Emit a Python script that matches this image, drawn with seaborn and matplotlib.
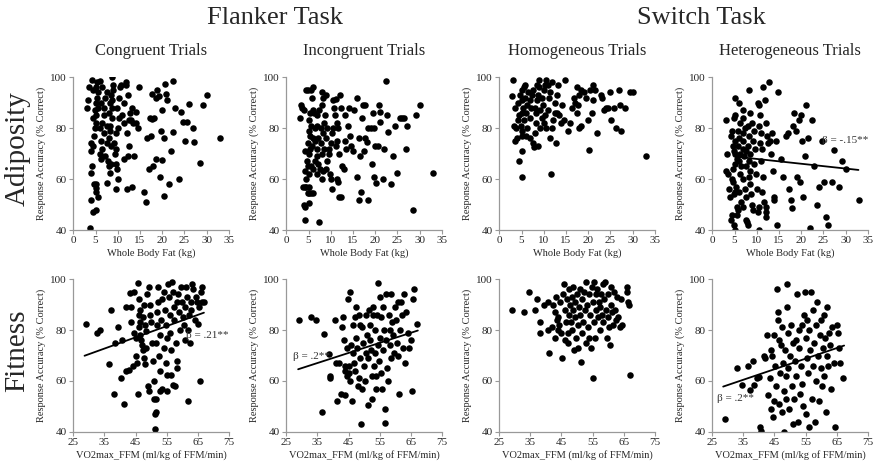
import numpy as np
import pandas as pd
import seaborn as sns
import matplotlib.pyplot as plt

# ---- data ----
# Adiposity row: whole body fat (kg) vs response accuracy (% correct)
cong_fat_x = [3.0, 3.2, 3.5, 3.7, 4.0, 3.9, 4.2, 4.5, 5.0, 4.6, 5.2, 5.0, 5.5, 5.2, 4.0, 4.5, 4.0, 4.6, 4.8, 5.0,
              4.4, 5.2, 4.8, 5.5, 5.0, 5.3, 5.6, 4.5, 5.0, 5.3, 6.0, 4.3,
              6.0, 6.3, 6.5, 6.2, 6.8, 6.0, 6.4, 6.8, 7.0, 6.3, 7.2, 7.5, 6.5, 7.5, 7.2, 7.8, 8.0, 8.2,
              8.5, 7.5, 8.0, 8.5, 8.2, 7.6, 8.3, 8.8, 8.0, 8.6, 8.2, 8.8, 8.5, 9.0, 8.8, 9.0,
              9.3, 9.5, 9.2, 9.6, 9.8, 9.7, 10.1, 9.6, 10.0, 10.3, 9.8, 10.2, 10.5, 10.8, 11.0, 11.3, 11.5, 11.8,
              11.9, 12.0, 11.5, 12.2, 12.0, 12.6, 12.5, 13.0, 12.8, 13.5, 13.2, 12.2, 13.3, 13.6, 14.0, 14.2,
              14.6, 14.8,
              16.0, 16.3, 16.5, 17.0, 17.5, 17.2, 17.8, 18.2, 18.0, 18.5, 17.6, 18.5, 19.3, 18.8, 19.5, 20.0,
              20.3, 19.8, 20.5, 20.0, 21.0, 20.8, 20.7, 21.5, 22.0, 22.5, 22.5, 23.0, 23.8, 24.2, 24.8, 25.5,
              25.2, 26.0, 27.0, 27.2, 28.6, 29.2, 30.2, 33.0]
cong_fat_y = [88, 91, 96, 41, 52, 62.5, 65, 47, 48, 58, 58, 55, 53, 56.5, 71, 73, 74, 77, 80, 82,
              84, 85, 87, 88, 90, 92, 94, 95, 96, 98, 98.5, 99,
              70, 68, 72, 75, 78, 80, 82, 85, 88, 90, 92, 94, 96, 58.5, 69, 67, 65, 62.5,
              66, 74, 76, 73, 79, 81, 81, 84, 86, 88, 90, 91, 93, 95, 100, 97,
              70, 72, 74, 66, 64, 56, 60, 78, 80, 84, 88, 92, 96, 97, 85, 82, 90, 98,
              97, 56, 68, 69, 78, 73, 83, 83, 86, 82, 88, 93, 57, 69, 86.5, 82,
              80, 96,
              55, 51, 76, 64, 77, 84, 83.5, 84, 65, 68, 93.5, 92, 92.5, 95, 61, 67.5,
              53.5, 79, 76, 87, 91, 93.5, 97.5, 58, 71, 78.5, 98.5, 88, 60, 86.5, 82.5, 82.5,
              75, 89.5, 80, 74.5, 66.5, 89, 93, 76]

incong_fat_x = [3.0, 3.3, 3.6, 4.0, 4.4, 4.8, 5.5, 6.0, 5.8, 4.2, 3.8, 4.5, 5.0, 4.0, 4.3, 4.8, 5.2, 5.6, 6.0, 5.0,
                4.3, 4.5, 5.0, 4.2, 4.8, 5.5, 6.0, 4.6, 5.0, 4.2, 5.4, 5.8, 4.8, 5.4, 6.0, 5.0, 5.6, 5.0, 5.4, 5.9,
                6.3, 6.8, 7.3, 6.5, 7.0, 6.5, 7.2, 7.0, 6.8, 6.5, 7.2, 7.5, 7.0, 7.3, 8.0, 8.2, 8.0, 8.5, 7.8, 8.3,
                7.8, 8.5, 8.8, 8.0, 8.3, 8.0, 9.0, 9.2, 9.0, 9.5, 9.2, 9.0, 9.8, 10.0, 10.2, 9.6, 10.0, 10.3, 10.5,
                10.8, 10.5, 11.2,
                11.0, 11.3, 11.6, 11.5, 11.2, 11.8, 11.5, 11.7, 11.8, 12.2, 12.0, 12.2, 12.5, 13.0, 13.2, 13.5, 13.8,
                13.2, 14.0, 14.3, 14.5, 15.0, 15.3, 16.0, 16.0, 16.3, 16.5, 16.3, 16.8,
                17.0, 17.3, 17.8, 17.5, 17.8, 18.2, 18.5, 18.3, 19.0, 19.5, 19.4, 19.8, 19.7, 20.0, 20.3, 20.6,
                21.0, 20.8, 21.0, 21.7, 22.0, 22.5, 22.7, 23.0, 23.6, 24.0, 24.5, 25.0, 25.5, 26.0, 26.5, 27.0,
                27.2, 28.5, 29.3, 30.0, 33.0]
incong_fat_y = [84, 89, 88, 87, 95, 95, 95, 96, 92, 57, 57, 57, 57, 50, 49, 54.5, 54.5, 54.5, 54.5, 50.5,
                44, 60, 62, 63, 65, 65, 64, 67, 70, 71, 72, 73, 74, 77, 76, 79, 81, 83, 86, 87,
                86, 85, 87, 80, 81, 75, 76, 72, 69, 67, 66, 64, 62, 43, 60, 63, 70, 72, 74, 78,
                80, 82, 85, 89, 92, 94, 93, 80, 76, 72, 67, 64, 62, 60, 56, 70, 74, 78, 80,
                88, 91, 91.5,
                85, 82, 80, 75, 73, 70, 60, 59, 53, 53, 93, 88, 65, 64, 75, 72, 81,
                85, 88, 77, 73, 71, 87, 92, 61, 76, 69, 52, 55,
                84, 89, 89, 71, 76, 74.5, 80, 52, 80, 86, 66, 61, 80, 73, 58.5, 73,
                82.5, 89, 86.5, 60, 72, 98.5, 85, 78.5, 58, 69, 81, 62.5, 84, 84, 84, 72,
                81, 48, 85, 89, 62.5]

homog_fat_x = [3.0, 2.8, 3.5, 3.3, 3.8, 3.5, 4.0, 4.2, 4.5, 4.2, 4.6, 4.5, 5.0, 5.2, 5.0, 5.2, 4.8, 5.0, 5.3, 5.0,
               5.2, 5.5, 5.8, 5.7, 5.5, 6.0, 6.2, 6.5, 6.0, 6.3, 6.8, 7.0, 7.2, 7.0, 7.3, 7.5, 7.6, 7.9, 8.0, 8.3,
               8.2, 8.0, 8.5, 8.8, 9.0, 8.5, 9.0, 8.8, 9.2, 9.5, 9.2, 9.8, 9.6, 10.0, 10.3, 10.5, 10.2, 10.0, 10.5,
               11.0, 11.2, 11.5, 11.0, 11.8, 11.5, 11.8, 11.6, 12.2, 12.5, 12.6, 12.8, 13.0, 13.3, 13.0, 13.5, 14.0,
               14.2, 14.8, 14.5, 15.5, 16.0, 16.3, 16.8, 17.0, 17.5, 17.8, 17.5, 18.0, 18.3, 18.0, 18.5, 19.0, 19.5,
               20.0, 20.3, 20.5, 21.0, 21.2, 20.8, 21.5, 22.0, 22.8, 23.2, 23.5, 24.0, 24.5, 25.0, 25.2, 25.8, 26.2,
               27.0, 27.2, 27.3, 28.3, 29.5, 30.0, 33.0]
homog_fat_y = [99, 92.5, 88, 81, 80, 75, 76, 83, 85, 90, 93, 67, 61, 71, 77, 79, 81, 86, 88, 91,
               95, 96, 97, 92, 83, 86, 89, 94, 77, 80, 76, 84, 88, 91, 93, 95, 74, 72.5, 78, 82,
               86, 88, 91, 93, 96, 97, 99, 73, 80, 84, 87, 89, 92, 95, 97, 99, 85, 82, 80,
               87, 92, 94, 97, 98, 76, 80, 62, 83, 86, 90, 74, 93, 97, 86, 85, 82,
               89, 99, 83, 79, 82, 88, 92, 90, 96, 89, 86, 93, 95, 80, 81, 94, 92,
               83, 71.5, 95, 97, 91, 86, 95, 78, 93, 92, 87, 88, 88, 94, 83, 88, 80,
               95, 89, 79, 88, 94, 94, 69]

heterog_fat_x = [3.0, 3.2, 3.0, 3.5, 3.8, 4.0, 4.2, 4.5, 4.8, 5.0, 5.2, 4.8, 4.5, 4.3, 4.6, 4.8, 5.0, 5.2, 5.5, 5.0,
                 4.7, 4.4, 4.6, 5.3, 5.0, 4.8, 5.5, 5.8, 5.2, 5.5, 6.0, 6.2, 5.8, 6.0, 5.8, 6.2, 6.0, 6.4, 6.2, 6.0,
                 6.4,
                 6.8, 7.0, 7.3, 7.0, 6.8, 7.0, 7.5, 7.2, 7.5, 7.0, 7.3, 7.6, 7.0, 7.5, 7.8, 8.0, 8.2, 8.5, 8.0, 8.3,
                 8.0, 8.5, 8.2, 8.6, 8.2, 8.5, 8.8, 9.0, 9.2, 9.0, 9.4, 9.2, 9.6, 9.5, 9.8, 10.0, 10.2, 10.5, 10.5,
                 10.3, 10.6, 10.8, 10.5, 11.0, 10.8, 11.2, 11.0, 11.5, 11.3, 11.6, 12.0, 12.2, 12.0, 11.5, 11.8, 12.0,
                 12.3, 12.5, 12.8, 13.0, 13.3, 13.5, 13.7, 14.0, 14.5, 14.8, 14.3, 14.0,
                 15.5, 16.0, 16.5, 17.0, 17.3, 17.8, 18.0, 18.2, 18.5, 18.8, 19.0, 19.5, 19.8, 20.0, 20.2, 20.5,
                 20.8, 21.0, 21.5, 22.0, 22.5, 23.0, 23.5, 24.0, 24.8, 25.2, 25.7, 26.0, 27.0, 27.3, 28.5, 29.3,
                 30.0, 33.0]
heterog_fat_y = [83, 70, 63, 62, 56, 53, 44, 46, 42, 92, 85, 84, 79, 77, 73, 71, 75, 70, 68, 66,
                 64, 60, 59, 57, 55, 54, 49, 48, 40, 46, 90, 82, 79, 76, 73, 70, 67, 65, 62, 55,
                 51,
                 87, 84, 80, 78, 75, 72, 71, 69, 65, 60, 56, 53, 49, 44, 43, 42, 95, 86, 81, 77,
                 73, 70, 67, 63, 61, 58, 54, 50, 48, 82, 79, 75, 72, 66, 62, 56, 47, 40, 49,
                 90, 89, 85, 81, 78, 74, 72, 67, 61, 55, 51, 49, 47, 45, 96, 91, 82,
                 77, 74, 98, 75, 70, 78, 63, 52, 42, 94, 75, 53,
                 68, 61, 77, 78, 56, 52, 48.5, 81, 86, 79, 61, 83, 59, 85, 75, 53,
                 69, 89, 76, 41, 83, 65, 50, 57, 75, 59, 45, 42, 59, 71.5, 57, 67,
                 64, 52]

# Fitness row: VO2max_FFM vs response accuracy (% correct)
cong_fit_x = [29.0, 32.5, 33.5, 36.5, 37.0, 38.0, 38.5, 39.3, 40.2, 40.8, 41.2, 42.0, 42.0, 43.0, 43.5, 43.2, 43.7,
              44.2, 44.4, 44.5, 45.0, 45.3, 45.5, 45.8, 45.8, 46.0, 46.3, 46.0, 46.5, 46.0, 46.6, 46.8, 47.0, 47.3,
              47.8, 47.5, 47.8, 48.0, 48.2, 48.5, 48.8, 48.5, 49.0, 49.3, 49.5, 49.3, 49.8, 50.0, 50.3, 50.5, 50.8,
              51.0, 51.4, 51.6, 51.3, 51.7, 51.5, 51.8, 52.0, 52.2, 52.3, 52.5, 52.8, 53.0, 53.2, 53.5, 53.0, 53.5,
              54.0, 54.2, 54.5, 54.7, 54.8, 55.0, 55.2, 55.0, 55.5, 55.8, 56.0, 56.2, 56.5, 56.3, 56.7, 57.0, 57.3,
              57.5, 57.0, 57.8, 58.0, 58.2, 58.5, 58.3, 58.7, 59.0, 59.3, 59.5, 60.0, 60.2, 60.5, 60.8, 61.0, 61.3,
              61.5, 61.8, 62.0, 62.2, 62.5, 62.8, 63.0, 63.3, 63.5, 64.0, 64.5, 64.8, 65.0, 65.5, 65.8, 66.0, 66.3,
              66.5, 67.0]
cong_fit_y = [82.5, 79, 80, 66.5, 88, 55, 75, 81, 61, 76, 51, 89, 64, 64.5, 83, 94.5, 89,
              66, 95, 79, 77, 70, 67, 55, 98.5, 92, 88, 86, 83, 81, 78, 76, 74, 72,
              90, 85, 69, 66.5, 82, 79.5, 94, 73, 58, 56, 86, 97, 90, 83, 75, 68, 60,
              53, 47, 48, 41, 53, 75, 82, 87, 91, 97, 70, 64, 78, 84, 92, 56, 57,
              73, 95, 88, 82, 67, 77, 62.5, 56, 98, 93, 86, 79, 72, 62.5, 99, 95, 89,
              84, 58.5, 58, 75, 68, 65, 91, 94, 87, 80, 97, 91, 85, 82, 76, 89, 97,
              93, 52, 80, 86, 75, 91, 88, 98, 96, 84, 93, 91, 82.5, 89, 60, 95, 97,
              91, 91]

incong_fit_x = [29.0, 33.0, 34.5, 36.5, 37.0, 38.8, 39.0, 39.2, 40.5, 41.0, 41.3, 42.0, 42.5, 42.8, 43.3, 43.5,
                43.8, 44.0, 44.0, 44.5, 44.5, 44.8, 45.0, 45.2, 45.5, 45.6, 45.8, 46.0, 46.3, 46.5, 46.8, 47.0,
                47.2, 47.5, 47.5, 47.8, 48.0, 48.3, 48.5, 48.6, 48.8, 49.0, 49.2, 49.5, 49.8, 50.0, 50.2, 50.5,
                50.7, 51.0, 51.2, 51.3, 51.5, 51.8, 52.0, 52.2, 52.5, 52.7, 52.8, 53.0, 53.2, 53.5, 53.6, 53.8,
                54.0, 54.3, 54.5, 54.5, 54.8, 55.0, 55.2, 55.5, 55.6, 55.8, 56.0, 56.2, 56.5, 56.6, 56.8, 57.0,
                57.2, 57.5, 57.8, 58.0, 58.2, 58.4, 58.6, 58.8, 59.0, 59.3, 59.6, 60.0, 60.3, 60.6, 60.8, 61.0,
                61.3, 61.6, 62.0, 62.3, 62.6, 63.0, 63.2, 63.5, 64.0, 64.3, 65.0, 65.5, 65.8, 66.0, 67.0]
incong_fit_y = [84, 85, 84, 48, 78.5, 70.5, 62, 61, 84, 67, 52, 67, 55, 81, 85, 76,
                64, 66, 54.5, 62, 73, 92, 66, 63, 60, 95, 74, 52, 82, 71, 67, 85,
                64, 89, 77, 73, 58, 61, 86, 69, 82, 43, 57, 81, 75, 66, 60, 86,
                71, 78, 69, 50.5, 88, 82, 76, 72, 62, 53, 86, 89, 66, 80, 71, 57,
                62, 86, 98.5, 74, 68, 93, 77, 85, 63, 57, 89, 72, 80, 49, 43.5, 94,
                76, 65, 60, 86, 80, 74, 94, 69, 83, 78, 71, 89, 84, 75, 91, 70,
                55, 80, 91, 86, 73, 94, 67, 87, 79, 73, 76, 56, 92, 96, 82.5]

homog_fit_x = [29.0, 33.0, 34.5, 36.5, 37.0, 38.0, 38.0, 39.5, 40.5, 40.8, 41.0, 41.8, 42.3, 42.8, 43.0, 43.2,
               43.5, 44.0, 44.0, 44.3, 44.6, 45.0, 45.3, 45.6, 45.8, 46.0, 46.2, 46.5, 46.7, 47.0, 47.2, 47.3,
               47.5, 47.8, 48.0, 48.3, 48.5, 48.6, 48.8, 49.0, 49.3, 49.5, 49.8, 50.0, 50.2, 50.3, 50.5, 50.8,
               51.0, 51.2, 51.5, 51.7, 52.0, 52.2, 52.5, 52.8, 53.0, 53.2, 53.5, 53.8, 54.0, 54.2, 54.5, 54.8,
               55.0, 55.0, 55.3, 55.5, 55.8, 56.0, 56.2, 56.5, 56.8, 57.0, 57.3, 57.5, 57.8, 58.0, 58.2, 58.5,
               58.8, 59.0, 59.3, 59.5, 59.8, 60.0, 60.2, 60.5, 60.8, 61.0, 61.3, 61.6, 62.0, 62.3, 62.6, 63.0,
               63.3, 63.8, 64.2, 64.5, 66.0, 66.2, 66.5, 66.8, 67.0]
homog_fit_y = [88, 87, 95, 88, 92, 83, 79, 90, 91, 80, 71, 81, 90, 87, 77, 93,
               84, 85, 80, 82, 91, 79, 69, 94, 98, 88, 76, 83, 92, 79, 75, 96,
               86, 90, 83, 93, 80, 97, 88, 72, 85, 91, 77, 94, 82, 73, 89, 96,
               86, 67.5, 92, 79, 83, 95, 88, 75, 99, 90, 81, 77, 94, 86, 73, 97,
               61, 91, 83, 99, 77, 88, 94, 96, 85, 91, 80, 89, 94, 86, 98, 83,
               92, 99, 88, 77, 85, 94, 81, 74, 90, 97, 87, 82, 95, 88, 84, 93,
               85, 81, 92, 82, 97, 95, 91, 90, 62.5]

heterog_fit_x = [29.0, 33.0, 34.5, 36.5, 37.2, 38.0, 38.5, 39.5, 40.0, 40.5, 40.8, 41.5, 42.0, 42.5, 43.0, 43.5,
                 43.8, 44.0, 44.3, 44.5, 44.8, 45.0, 45.3, 45.5, 45.8, 46.0, 46.2, 46.5, 46.6, 46.8, 47.0, 47.3,
                 47.5, 47.8, 48.0, 48.0, 48.3, 48.6, 48.8, 49.0, 49.0, 49.3, 49.5, 49.8, 50.0, 50.3, 50.5, 50.8,
                 51.0, 51.2, 51.5, 51.8, 52.0, 52.2, 52.5, 52.8, 53.0, 53.2, 53.5, 53.8, 54.0, 54.3, 54.5, 54.8,
                 55.0, 55.0, 55.3, 55.5, 55.7, 56.0, 56.2, 56.5, 56.8, 57.0, 57.3, 57.5, 57.8, 58.0, 58.2, 58.5,
                 58.8, 59.0, 59.3, 59.5, 59.8, 60.0, 60.3, 60.6, 60.8, 61.0, 61.3, 61.6, 61.8, 62.0, 62.3, 62.6,
                 63.0, 63.3, 63.6, 64.0, 64.5, 65.0, 65.5, 65.8, 66.0, 67.0]
heterog_fit_y = [45, 65, 58.5, 66, 56.5, 68, 58.5, 61, 61.5, 42, 40.5, 70, 69, 78, 54.5, 61,
                 49, 72, 70, 46, 78, 52, 66, 58, 96, 87, 84, 76, 51, 63, 74, 48,
                 81, 67, 40, 56, 72, 62, 53, 98, 89, 79, 65, 49, 70, 82, 58, 75,
                 43, 53, 68, 76, 62, 94, 44, 80, 73, 55, 66, 82, 59, 50, 86, 95,
                 77, 47, 69, 84, 63, 42, 80, 72, 95, 53, 88, 66, 75, 44, 82, 60,
                 91, 70, 52, 78, 84, 65, 58, 73, 86, 62, 77, 48, 89, 70, 66, 79,
                 74, 57, 81, 67, 42, 82, 79, 73, 67, 61]

# fitted lines (x start/end, y start/end) and beta labels
fit_lines = {
    (0, 3): ([5.3, 32.9], [68.8, 63.6], "\u03b2 = -.15**", (24.8, 75.0)),
    (1, 0): ([28.6, 67.0], [69.9, 86.8], "\u03b2 = .21**", (61.3, 77.8)),
    (1, 1): ([28.8, 67.3], [64.6, 79.8], "\u03b2 = .2**", (27.0, 69.5)),
    (1, 3): ([28.5, 67.4], [57.8, 73.9], "\u03b2 = .2**", (26.5, 53.0)),
}

trial_titles = ["Congruent Trials", "Incongruent Trials", "Homogeneous Trials", "Heterogeneous Trials"]
task_titles = ["Flanker Task", "Switch Task"]
row_labels = ["Adiposity", "Fitness"]
x_labels = ["Whole Body Fat (kg)", "VO2max_FFM (ml/kg of FFM/min)"]
y_label = "Response Accuracy (% Correct)"

panel_data = [
    [(cong_fat_x, cong_fat_y), (incong_fat_x, incong_fat_y), (homog_fat_x, homog_fat_y), (heterog_fat_x, heterog_fat_y)],
    [(cong_fit_x, cong_fit_y), (incong_fit_x, incong_fit_y), (homog_fit_x, homog_fit_y), (heterog_fit_x, heterog_fit_y)],
]

sns.set_style("ticks")
plt.rcParams['font.family'] = ['Liberation Serif', 'DejaVu Serif']

fig, axes = plt.subplots(2, 4, figsize=(8.73, 4.62), dpi=100)
fig.subplots_adjust(left=0.084, right=0.994, top=0.833, bottom=0.065, wspace=0.37, hspace=0.32)

for r in range(2):
    for c in range(4):
        ax = axes[r, c]
        xs, ys = panel_data[r][c]
        df = pd.DataFrame({"x": xs, "y": ys})
        sns.scatterplot(data=df, x="x", y="y", ax=ax, color="black", s=22, linewidth=0, legend=False)
        if (r, c) in fit_lines:
            lx, ly, txt, pos = fit_lines[(r, c)]
            sns.lineplot(x=lx, y=ly, ax=ax, color="black", linewidth=1.3)
            ax.text(pos[0], pos[1], txt, fontsize=8, color="#333333", va="center", ha="left", clip_on=False)
        ax.set_ylim(40, 100)
        ax.set_yticks([40, 60, 80, 100])
        if r == 0:
            ax.set_xlim(0, 35)
            ax.set_xticks(range(0, 36, 5))
        else:
            ax.set_xlim(25, 75)
            ax.set_xticks(range(25, 76, 10))
        ax.set_xlabel(x_labels[r], fontsize=7.5, labelpad=2)
        ax.set_ylabel(y_label, fontsize=7.5, labelpad=3)
        ax.tick_params(labelsize=8, length=3, width=0.8, color="#999999", pad=1.5)
        for sp in ["left", "bottom"]:
            ax.spines[sp].set_color("#999999")
            ax.spines[sp].set_linewidth(0.9)
        sns.despine(ax=ax)

# column subtitles
for c in range(4):
    pos = axes[0, c].get_position()
    fig.text((pos.x0 + pos.x1) / 2, 0.89, trial_titles[c], ha="center", va="center", fontsize=12)

# task titles spanning two columns
for i in range(2):
    p0 = axes[0, 2 * i].get_position()
    p1 = axes[0, 2 * i + 1].get_position()
    fig.text((p0.x0 + p1.x1) / 2 + 0.02, 0.96, task_titles[i], ha="center", va="center", fontsize=19)

# row labels
for r in range(2):
    pos = axes[r, 0].get_position()
    fig.text(0.02, (pos.y0 + pos.y1) / 2 + 0.01, row_labels[r], rotation=90, ha="center", va="center", fontsize=21)

plt.savefig("out.png", dpi=100)
plt.close()
